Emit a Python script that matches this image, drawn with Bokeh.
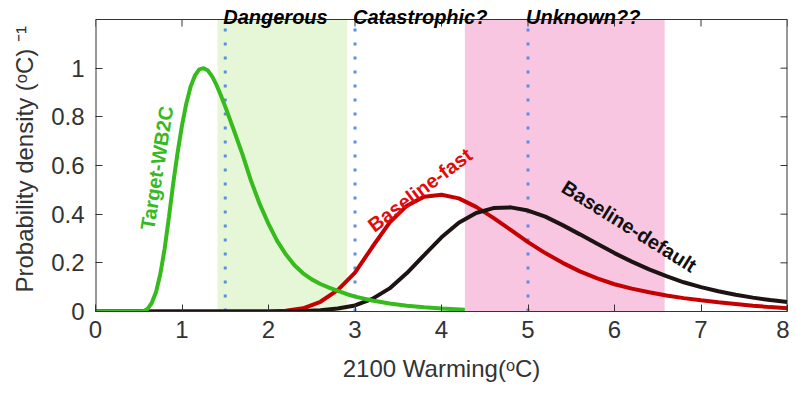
import math
from bokeh.plotting import figure
from bokeh.models import Label, Range1d, FixedTicker
from bokeh.embed import file_html
from bokeh.resources import INLINE

# ---------------- data ----------------
x_ticks = [0, 1, 2, 3, 4, 5, 6, 7, 8]
y_ticks = [0, 0.2, 0.4, 0.6, 0.8, 1.0]

green_x = [0.0, 0.5, 0.55, 0.6, 0.65, 0.7, 0.75, 0.8, 0.85, 0.9,
           0.95, 1.0, 1.05, 1.1, 1.15, 1.2, 1.25, 1.3, 1.35, 1.4,
           1.45, 1.5, 1.6, 1.7, 1.8, 1.9, 2.0, 2.1, 2.2, 2.3,
           2.4, 2.5, 2.6, 2.7, 2.8, 2.9, 3.0, 3.2, 3.4, 3.6,
           3.8, 4.0, 4.27]
green_y = [0.0, 0.0, 0.0, 0.01, 0.035, 0.08, 0.155, 0.26, 0.39, 0.53,
           0.655, 0.765, 0.855, 0.925, 0.97, 0.995, 1.0, 0.99, 0.965, 0.93,
           0.888, 0.842, 0.745, 0.645, 0.535, 0.44, 0.36, 0.29, 0.235, 0.19,
           0.157, 0.132, 0.113, 0.098, 0.085, 0.072, 0.061, 0.045, 0.033, 0.024,
           0.017, 0.012, 0.007]

red_x = [0.0, 2.0, 2.2, 2.4, 2.6, 2.8, 3.0, 3.2, 3.4, 3.6,
         3.8, 4.0, 4.2, 4.4, 4.6, 4.8, 5.0, 5.2, 5.4, 5.6,
         5.8, 6.0, 6.2, 6.4, 6.6, 6.8, 7.0, 7.2, 7.4, 7.6,
         7.8, 8.0]
red_y = [0.0, 0.0, 0.003, 0.013, 0.04, 0.088, 0.16, 0.265, 0.365, 0.435,
         0.472, 0.48, 0.465, 0.43, 0.385, 0.335, 0.285, 0.24, 0.2, 0.165,
         0.136, 0.112, 0.094, 0.079, 0.066, 0.055, 0.046, 0.038, 0.031, 0.024,
         0.018, 0.013]

black_x = [0.0, 2.2, 2.4, 2.6, 2.8, 3.0, 3.2, 3.4, 3.6, 3.8,
           4.0, 4.2, 4.4, 4.6, 4.8, 5.0, 5.2, 5.4, 5.6, 5.8,
           6.0, 6.2, 6.4, 6.6, 6.8, 7.0, 7.2, 7.4, 7.6, 7.8,
           8.0]
black_y = [0.0, 0.0, 0.002, 0.005, 0.012, 0.025, 0.052, 0.095, 0.158, 0.232,
           0.305, 0.365, 0.405, 0.425, 0.428, 0.415, 0.39, 0.355, 0.317, 0.278,
           0.24, 0.205, 0.173, 0.145, 0.12, 0.1, 0.083, 0.069, 0.057, 0.047,
           0.039]

zone_left = [1.41, 4.27]
zone_right = [2.91, 6.58]
zone_colors = ["#e6f7d8", "#f8c6e1"]

threshold_x = [1.5, 3.0, 5.0]
threshold_names = ["Dangerous", "Catastrophic?", "Unknown??"]

FONT = "Liberation Sans"
AX = "#333333"
X_MIN, X_MAX, Y_MIN, Y_MAX = 0, 8, 0, 1.2
FW = 692          # px width of the axes box
BOX_H = 292       # px height of the axes box
TOP_PAD = 19      # px of room above the box (for the zone titles)
FH = BOX_H + TOP_PAD
Y_TOP = Y_MAX * FH / BOX_H
TICK = 7  # px

p = figure(title=None, frame_width=FW, frame_height=FH,
           x_range=Range1d(X_MIN, X_MAX), y_range=Range1d(Y_MIN, Y_TOP),
           output_backend="svg", toolbar_location=None,
           min_border_left=95, min_border_right=2,
           min_border_top=0, min_border_bottom=81)
p.background_fill_color = "white"
p.border_fill_color = "white"
p.outline_line_color = None
p.xgrid.visible = False
p.ygrid.visible = False

# shaded zones
p.quad(left=zone_left, right=zone_right, bottom=Y_MIN, top=Y_MAX,
       fill_color=zone_colors, line_color=None)

# dotted thresholds
p.segment(x0=threshold_x, x1=threshold_x, y0=[Y_MIN] * 3, y1=[Y_MAX] * 3,
          line_color="#5b8ee0", line_width=3, line_dash="3 11")

# curves
p.line(red_x, red_y, line_color="#c40000", line_width=4)
p.line(black_x, black_y, line_color="#1d1313", line_width=4)
p.line(green_x, green_y, line_color="#35bb1c", line_width=4)

# axes box (left, right, top edges) and mirrored inward ticks
p.segment(x0=[X_MIN, X_MAX], x1=[X_MIN, X_MAX], y0=[Y_MIN, Y_MIN],
          y1=[Y_MAX, Y_MAX], line_color=AX, line_width=2)
p.segment(x0=[X_MIN], x1=[X_MAX], y0=[Y_MAX], y1=[Y_MAX],
          line_color=AX, line_width=1)
dy = TICK / BOX_H * (Y_MAX - Y_MIN)
dx = TICK / FW * (X_MAX - X_MIN)
p.segment(x0=x_ticks, x1=x_ticks, y0=[Y_MAX] * len(x_ticks),
          y1=[Y_MAX - dy] * len(x_ticks), line_color=AX, line_width=1)
p.segment(x0=[X_MAX] * len(y_ticks), x1=[X_MAX - dx] * len(y_ticks),
          y0=y_ticks, y1=y_ticks, line_color=AX, line_width=1)

# axes styling
for ax in (p.xaxis[0], p.yaxis[0]):
    ax.axis_line_color = AX
    ax.axis_line_width = 1
    ax.major_tick_line_color = AX
    ax.major_tick_in = TICK
    ax.major_tick_out = 0
    ax.minor_tick_line_color = None
    ax.major_label_text_font = FONT
    ax.major_label_text_font_size = "24px"
    ax.major_label_text_color = AX
    ax.axis_label_text_font = FONT
    ax.axis_label_text_font_size = "24px"
    ax.axis_label_text_font_style = "normal"
    ax.axis_label_text_color = AX
p.yaxis.axis_line_color = None

p.xaxis.ticker = FixedTicker(ticks=x_ticks)
p.yaxis.ticker = FixedTicker(ticks=y_ticks)
p.xaxis.major_label_standoff = 9
p.yaxis.major_label_standoff = 11
p.xaxis.axis_label = "2100 Warming(ᵒC)"
p.yaxis.axis_label = "Probability density (ᵒC)  ⁻¹"
p.xaxis.axis_label_standoff = 14
p.yaxis.axis_label_standoff = 10

# zone titles above the box
for tx, name in zip(threshold_x, threshold_names):
    p.add_layout(Label(x=tx, y=Y_MAX, text=name, text_align="left",
                       text_baseline="alphabetic", x_offset=-2, y_offset=3,
                       text_font=FONT, text_font_size="20px",
                       text_font_style="bold italic", text_color="black"))

# curve labels
p.add_layout(Label(x=0.71, y=0.59, text="Target-WB2C", angle=math.radians(81),
                   text_align="center", text_baseline="middle",
                   text_font=FONT, text_font_size="20px", text_font_style="bold",
                   text_color="#35bb1c"))
p.add_layout(Label(x=3.75, y=0.5, text="Baseline-fast", angle=math.radians(37),
                   text_align="center", text_baseline="middle",
                   text_font=FONT, text_font_size="20px", text_font_style="bold",
                   text_color="#e30a0a"))
p.add_layout(Label(x=6.17, y=0.35, text="Baseline-default", angle=math.radians(-32),
                   text_align="center", text_baseline="middle",
                   text_font=FONT, text_font_size="20px", text_font_style="bold",
                   text_color="#111111"))

open("out.html", "w").write(file_html(p, INLINE))
